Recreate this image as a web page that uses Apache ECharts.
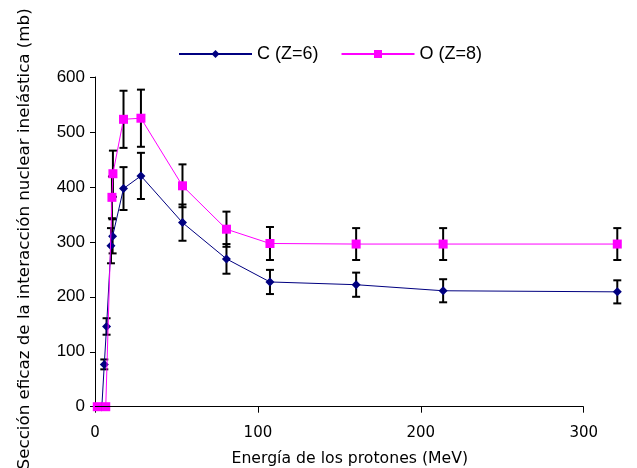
<!DOCTYPE html>
<html><head><meta charset="utf-8">
<script src="https://cdn.jsdelivr.net/npm/echarts@6/dist/echarts.min.js"></script>
<style>html,body{margin:0;padding:0;background:#fff}#c{width:637px;height:468px}</style>
</head><body><div id="c"></div>
<script>
// Carbon (Z=6)
const cEnergy = [4.2, 5.7, 7.1, 9.8, 10.8, 17.5, 28.2, 53.7, 80.7, 107.4, 160.3, 213.7, 320.6];
const cSigma  = [0, 77, 146, 293, 310, 397, 420, 335, 269, 227, 222, 211, 209];
const cError  = [0, 9, 15, 32, 31, 39, 42, 33, 27, 22, 22, 21, 21];
// Oxygen (Z=8)
const oEnergy = [1.4, 6.6, 10.4, 11.0, 17.5, 28.2, 53.7, 80.7, 107.4, 160.3, 213.7, 320.6];
const oSigma  = [0, 0, 381, 424, 523, 525, 402, 323, 297, 296, 296, 296];
const oError  = [0, 0, 38, 42, 52, 52, 39, 32, 30, 29, 29, 29];
const xTicks = [0, 100, 200, 300];
const yTicks = [0, 100, 200, 300, 400, 500, 600];
const seriesNames = ['C (Z=6)', 'O (Z=8)'];

const pts = (xs, ys) => xs.map((x, i) => [x, ys[i]]);
const errs = (xs, ys, es) => xs.map((x, i) => [x, ys[i] - es[i], ys[i] + es[i]]).filter((d, i) => es[i] > 0);

function renderErr(params, api) {
  const x = api.value(0), lo = api.value(1), hi = api.value(2);
  const p1 = api.coord([x, lo]), p2 = api.coord([x, hi]);
  const hw = 4;
  const st = {stroke: '#000', lineWidth: 2};
  return {type: 'group', children: [
    {type: 'line', shape: {x1: p1[0], y1: p1[1], x2: p2[0], y2: p2[1]}, style: st},
    {type: 'line', shape: {x1: p1[0] - hw, y1: p1[1], x2: p1[0] + hw, y2: p1[1]}, style: st},
    {type: 'line', shape: {x1: p2[0] - hw, y1: p2[1], x2: p2[0] + hw, y2: p2[1]}, style: st}
  ]};
}

const chart = echarts.init(document.getElementById('c'), null, {renderer: 'canvas'});
chart.setOption({
  animation: false,
  backgroundColor: '#fff',
  legend: {
    data: seriesNames,
    left: 173, top: 40,
    itemWidth: 73, itemHeight: 10, itemGap: 22,
    textStyle: {fontFamily: 'Liberation Sans', fontSize: 18, color: '#000'}
  },
  grid: {left: 95, right: 4.4, top: 77, bottom: 61.3, containLabel: false, outerBoundsMode: 'none'},
  xAxis: {
    type: 'value', min: 0, max: 330,
    name: 'Energía de los protones (MeV)', nameLocation: 'middle', nameGap: 44,
    nameTextStyle: {fontFamily: 'DejaVu Sans', fontSize: 15.7, color: '#000', padding: [0, 28, 0, 0]},
    axisLine: {show: false},
    axisTick: {show: true, inside: false, length: 6, lineStyle: {color: '#000'}, customValues: xTicks},
    axisLabel: {margin: 19, fontFamily: 'DejaVu Sans', fontSize: 15, color: '#000', customValues: xTicks},
    splitLine: {show: false}
  },
  yAxis: {
    type: 'value', min: 0, max: 600, interval: 100,
    name: 'Sección eficaz de la interacción nuclear inelástica (mb)', nameLocation: 'middle', nameGap: 62,
    nameTextStyle: {fontFamily: 'DejaVu Sans', fontSize: 16.7, color: '#000', padding: [0, 0, 0, 6]},
    axisLine: {show: true, lineStyle: {color: '#000', width: 1}},
    axisTick: {show: true, inside: false, length: 5, lineStyle: {color: '#000'}},
    axisLabel: {margin: 10, fontFamily: 'Liberation Sans', fontSize: 17, color: '#000',
      formatter: v => yTicks.includes(v) ? String(v) : ''},
    splitLine: {show: false}
  },
  series: [
    {type: 'custom', name: 'errC', renderItem: renderErr, data: errs(cEnergy, cSigma, cError), clip: false, z: 1, silent: true,
      markLine: {silent: true, symbol: 'none', label: {show: false}, animation: false,
        lineStyle: {color: '#000', width: 1, type: 'solid'},
        data: [[{coord: [xTicks[0], 0]}, {coord: [xTicks[xTicks.length - 1], 0]}]]}},
    {type: 'custom', name: 'errO', renderItem: renderErr, data: errs(oEnergy, oSigma, oError), clip: false, z: 1, silent: true},
    {type: 'line', name: seriesNames[0], data: pts(cEnergy, cSigma), clip: false, z: 3,
      symbol: 'diamond', symbolSize: 9, showAllSymbol: true,
      lineStyle: {color: '#000080', width: 1}, itemStyle: {color: '#000080'}},
    {type: 'line', name: seriesNames[1], data: pts(oEnergy, oSigma), clip: false, z: 4,
      symbol: 'rect', symbolSize: 9, showAllSymbol: true,
      lineStyle: {color: '#FF00FF', width: 1}, itemStyle: {color: '#FF00FF'}}
  ]
});
</script></body></html>
